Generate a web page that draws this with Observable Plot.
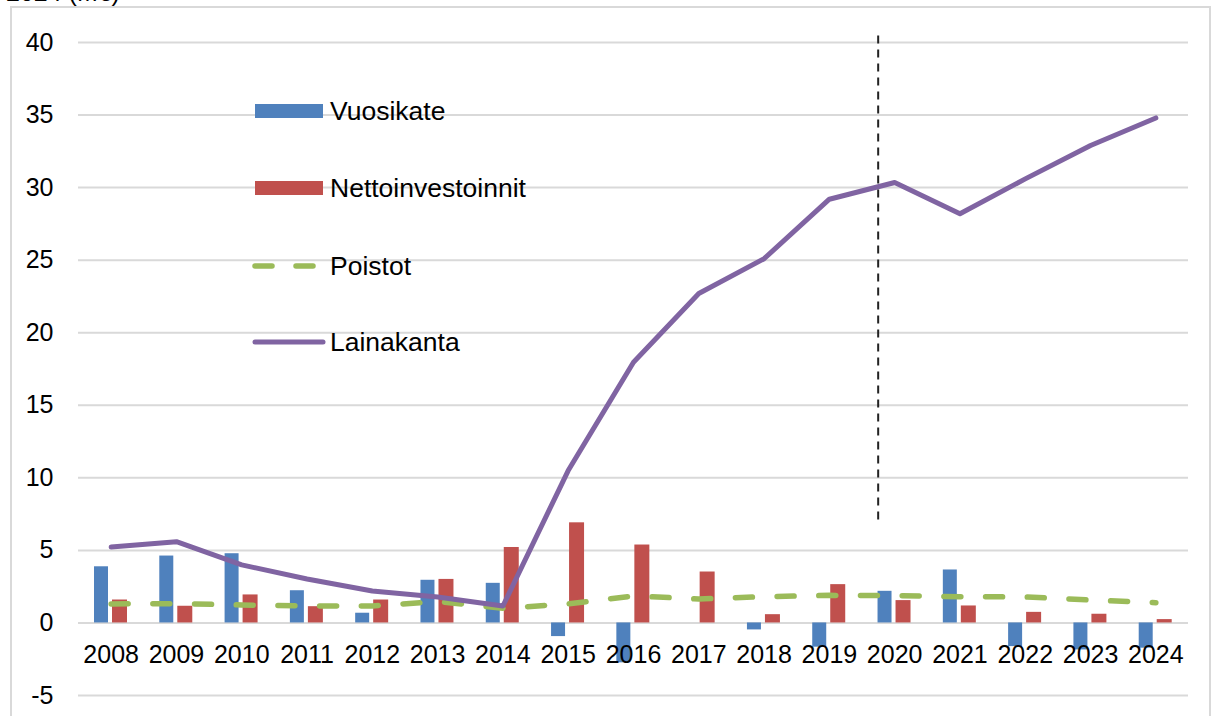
<!DOCTYPE html>
<html>
<head>
<meta charset="utf-8">
<script src="https://cdn.jsdelivr.net/npm/d3@7"></script>
<script src="https://cdn.jsdelivr.net/npm/@observablehq/plot@0.6"></script>
<style>
  html, body { margin: 0; padding: 0; background: #fff; }
  body { font-family: "Liberation Sans", Arial, sans-serif; }
  #wrap { position: relative; width: 1218px; height: 716px; overflow: hidden; background: #fff; }
  #frame { position: absolute; left: 10px; top: 6px; width: 1201px; height: 800px; border: 2px solid #d9d9d9; box-sizing: border-box; }
  #title { position: absolute; left: 6px; top: -20px; font-size: 25px; line-height: 25px; color: #000; white-space: nowrap; }
  #chart { position: absolute; left: 0; top: 0; }
  #legend { position: absolute; left: 0; top: 0; pointer-events: none; }
</style>
</head>
<body>
<div id="wrap">
  <div id="frame"></div>
  <div id="title">2024 (M€)</div>
  <div id="chart"></div>
  <svg id="legend" width="1218" height="716"></svg>
</div>
<script>
// ---- data ----
const years = ["2008","2009","2010","2011","2012","2013","2014","2015","2016","2017","2018","2019","2020","2021","2022","2023","2024"];
const vuosikate = [3.87, 4.61, 4.77, 2.22, 0.67, 2.94, 2.73, -0.94, -2.75, 0, -0.48, -1.67, 2.18, 3.65, -1.63, -1.86, -1.74];
const nettoinvestoinnit = [1.58, 1.15, 1.93, 1.12, 1.58, 3.0, 5.2, 6.9, 5.37, 3.51, 0.57, 2.64, 1.54, 1.17, 0.73, 0.6, 0.23];
const poistot = [1.31, 1.33, 1.24, 1.17, 1.17, 1.47, 1.01, 1.31, 1.86, 1.65, 1.81, 1.9, 1.88, 1.81, 1.79, 1.58, 1.40];
const lainakanta = [5.23, 5.6, 4.0, 3.03, 2.2, 1.79, 1.17, 10.5, 17.96, 22.7, 25.1, 29.2, 30.35, 28.2, 30.6, 32.9, 34.8];
const yTicks = [-5, 0, 5, 10, 15, 20, 25, 30, 35, 40];
const divider = [{year: "2020", from: 7.1, to: 40.6}];
const legendItems = [
  {label: "Vuosikate", kind: "bar", color: "#4f81bd"},
  {label: "Nettoinvestoinnit", kind: "bar", color: "#c0504d"},
  {label: "Poistot", kind: "dash", color: "#9bbb59"},
  {label: "Lainakanta", kind: "line", color: "#8064a2"}
];

const data = years.map((y, i) => ({
  year: y,
  vuosikate: vuosikate[i],
  netto: nettoinvestoinnit[i],
  poistot: poistot[i],
  laina: lainakanta[i]
}));

const font = "'Liberation Sans', Arial, sans-serif";

const chart = Plot.plot({
  width: 1218,
  height: 716,
  marginLeft: 78,
  marginRight: 30,
  marginTop: 42,
  marginBottom: 21,
  x: {type: "band", domain: years, padding: 0, round: false, axis: null},
  y: {domain: [-5, 40], axis: null},
  style: {fontFamily: font, fontSize: "25px", background: "transparent", color: "#000", overflow: "visible"},
  marks: [
    Plot.ruleY(yTicks, {stroke: "#d9d9d9", strokeWidth: 2, strokeOpacity: 1}),
    Plot.axisY({ticks: yTicks, tickSize: 0, tickPadding: 25, fontSize: 25, fill: "#000", tickFormat: d => String(d), textAnchor: "end"}),
    Plot.barY(data, {x: "year", y: "vuosikate", fill: "#4f81bd", insetLeft: 16, insetRight: 35.3}),
    Plot.barY(data, {x: "year", y: "netto", fill: "#c0504d", insetLeft: 34, insetRight: 16.3}),
    Plot.text(years, {x: d => d, y: () => 0, dy: 32, text: d => d, fontSize: 25, fill: "#000", lineAnchor: "middle"}),
    Plot.line(data, {x: "year", y: "poistot", stroke: "#9bbb59", strokeWidth: 5.5, strokeDasharray: "17,24.7", strokeLinecap: "round"}),
    Plot.line(data, {x: "year", y: "laina", stroke: "#8064a2", strokeWidth: 5, strokeLinecap: "round", strokeLinejoin: "round"}),
    Plot.ruleX(divider, {x: "year", y1: "from", y2: "to", dx: -16.5, stroke: "#222", strokeWidth: 2, strokeDasharray: "8,6"})
  ]
});
document.getElementById("chart").appendChild(chart);

// ---- legend (overlay) ----
const lg = d3.select("#legend");
const rowY = [111, 188, 266, 342];
legendItems.forEach((it, i) => {
  const cy = rowY[i];
  if (it.kind === "bar") {
    lg.append("rect").attr("x", 255).attr("y", cy - 7).attr("width", 68).attr("height", 14).attr("fill", it.color);
  } else if (it.kind === "dash") {
    lg.append("line").attr("x1", 255).attr("x2", 323).attr("y1", cy).attr("y2", cy)
      .attr("stroke", it.color).attr("stroke-width", 5.5).attr("stroke-linecap", "round").attr("stroke-dasharray", "17,24");
  } else {
    lg.append("line").attr("x1", 255).attr("x2", 323).attr("y1", cy).attr("y2", cy)
      .attr("stroke", it.color).attr("stroke-width", 5).attr("stroke-linecap", "round");
  }
  lg.append("text").attr("x", 330).attr("y", cy).attr("dominant-baseline", "central")
    .attr("font-family", font).attr("font-size", 26.5).attr("fill", "#000").text(it.label);
});
</script>
</body>
</html>
